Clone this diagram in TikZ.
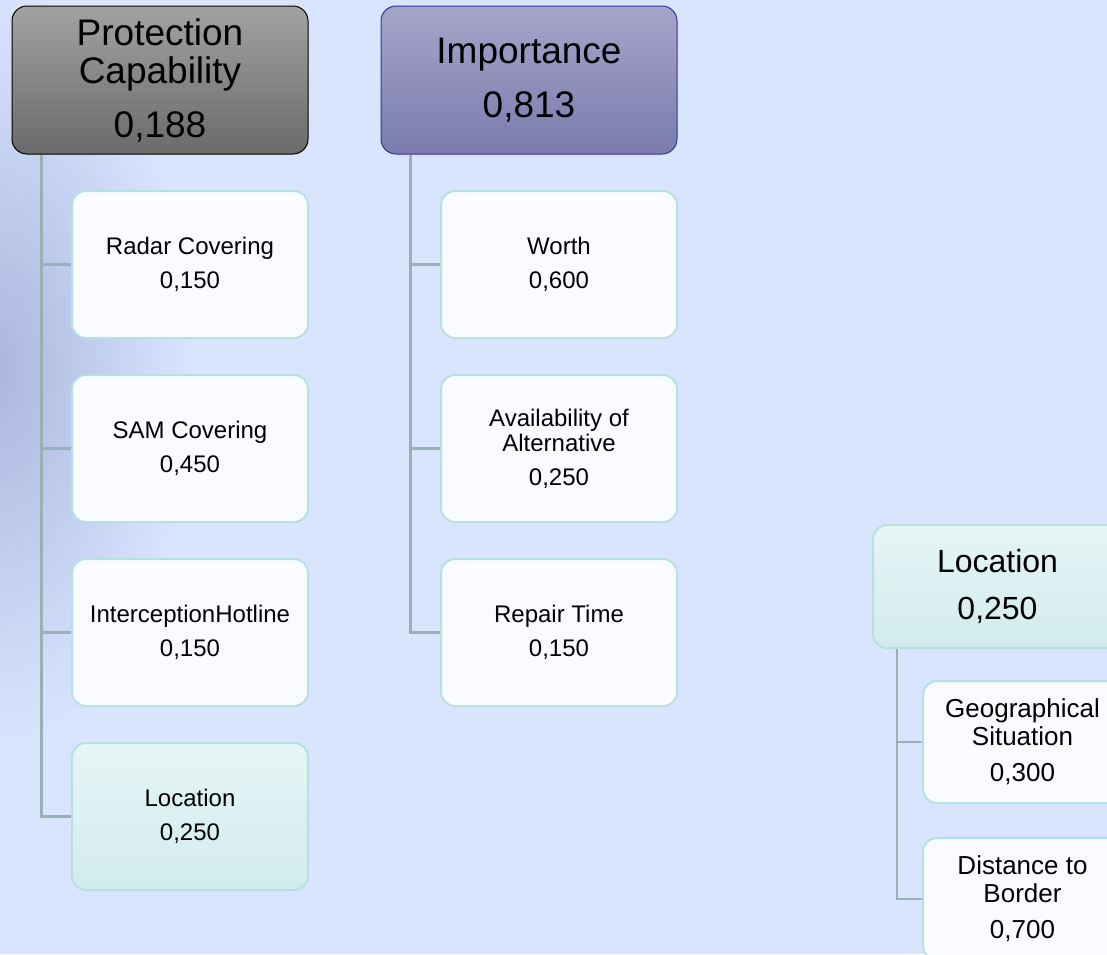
\documentclass[tikz,border=0pt]{standalone}
\usepackage{fontspec}
\setmainfont{Liberation Sans}
\usepackage{xcolor}
\usepackage{tikz}
\usetikzlibrary{positioning}
\definecolor{bgbase}{HTML}{D9E5FF}
\definecolor{bgdark}{HTML}{ABB7DD}
\definecolor{connline}{HTML}{98B2B4}
\definecolor{tealedge}{HTML}{B6E0E2}
\definecolor{childfill}{HTML}{F9FBFF}
\definecolor{locktop}{HTML}{E6F5F5}
\definecolor{lockbot}{HTML}{D2EBEC}
\definecolor{pctop}{HTML}{A2A2A2}
\definecolor{pcbot}{HTML}{6A6A6A}
\definecolor{imptop}{HTML}{A5A5CA}
\definecolor{impbot}{HTML}{7B7BAD}
\definecolor{impedge}{HTML}{33339A}

\tikzset{
  header/.style={rounded corners=15pt, minimum width=296pt, minimum height=148pt,
    align=center, inner sep=0pt, font=\fontsize{37}{38}\selectfont},
  childbox/.style={rounded corners=14pt, draw=tealedge, line width=2pt, fill=childfill,
    minimum width=236pt, minimum height=147pt, align=center, inner sep=0pt,
    font=\fontsize{24}{25}\selectfont},
  locbox/.style={childbox, fill=none, top color=locktop, bottom color=lockbot},
  conn/.style={draw=connline, line width=2.5pt}
}

\begin{document}
\begin{tikzpicture}[x=1pt, y=-1pt]
  \useasboundingbox (0,0) rectangle (1107,954);
  \clip (0,0) rectangle (1107,954);
  \fill[bgbase] (0,0) rectangle (1107,954);
  \shade[inner color=bgdark, outer color=bgbase] (0,370) ellipse (190 and 380);

  % protection capability
  \node[header, draw=black, line width=1pt, top color=pctop, bottom color=pcbot]
    (pc) at (160,80) {Protection\\Capability\\[16pt]0,188};
  \node[childbox] (radar) at (190,264.5) {Radar Covering\\[9pt]0,150};
  \node[childbox, below=35pt of radar] (sam) {SAM Covering\\[9pt]0,450};
  \node[childbox, below=35pt of sam] (hotline) {InterceptionHotline\\[9pt]0,150};
  \node[locbox, below=35pt of hotline] (loc) {Location\\[9pt]0,250};
  \foreach \c in {radar, sam, hotline, loc}
    \draw[conn] ([xshift=30pt]pc.south west) |- (\c.west);

  % importance
  \node[header, draw=impedge, line width=1pt, top color=imptop, bottom color=impbot]
    (imp) at (529,80) {Importance\\[16pt]0,813};
  \node[childbox] (worth) at (559,264.5) {Worth\\[9pt]0,600};
  \node[childbox, below=35pt of worth] (avail) {Availability of\\Alternative\\[9pt]0,250};
  \node[childbox, below=35pt of avail] (repair) {Repair Time\\[9pt]0,150};
  \foreach \c in {worth, avail, repair}
    \draw[conn] ([xshift=30pt]imp.south west) |- (\c.west);

  % location detail
  \node[locbox, minimum width=249pt, minimum height=123pt,
    font=\fontsize{32}{34}\selectfont] (lochead) at (997.5,586.5) {Location\\[13pt]0,250};
  \node[childbox, minimum width=199pt, minimum height=122pt,
    font=\fontsize{26}{28}\selectfont] (geo) at (1022.5,742) {Geographical\\Situation\\[8pt]0,300};
  \node[childbox, minimum width=199pt, minimum height=122pt,
    font=\fontsize{26}{28}\selectfont, below=33pt of geo] (border) {Distance to\\Border\\[8pt]0,700};
  \foreach \c in {geo, border}
    \draw[conn] ([xshift=25pt]lochead.south west) |- (\c.west);
\end{tikzpicture}
\end{document}
